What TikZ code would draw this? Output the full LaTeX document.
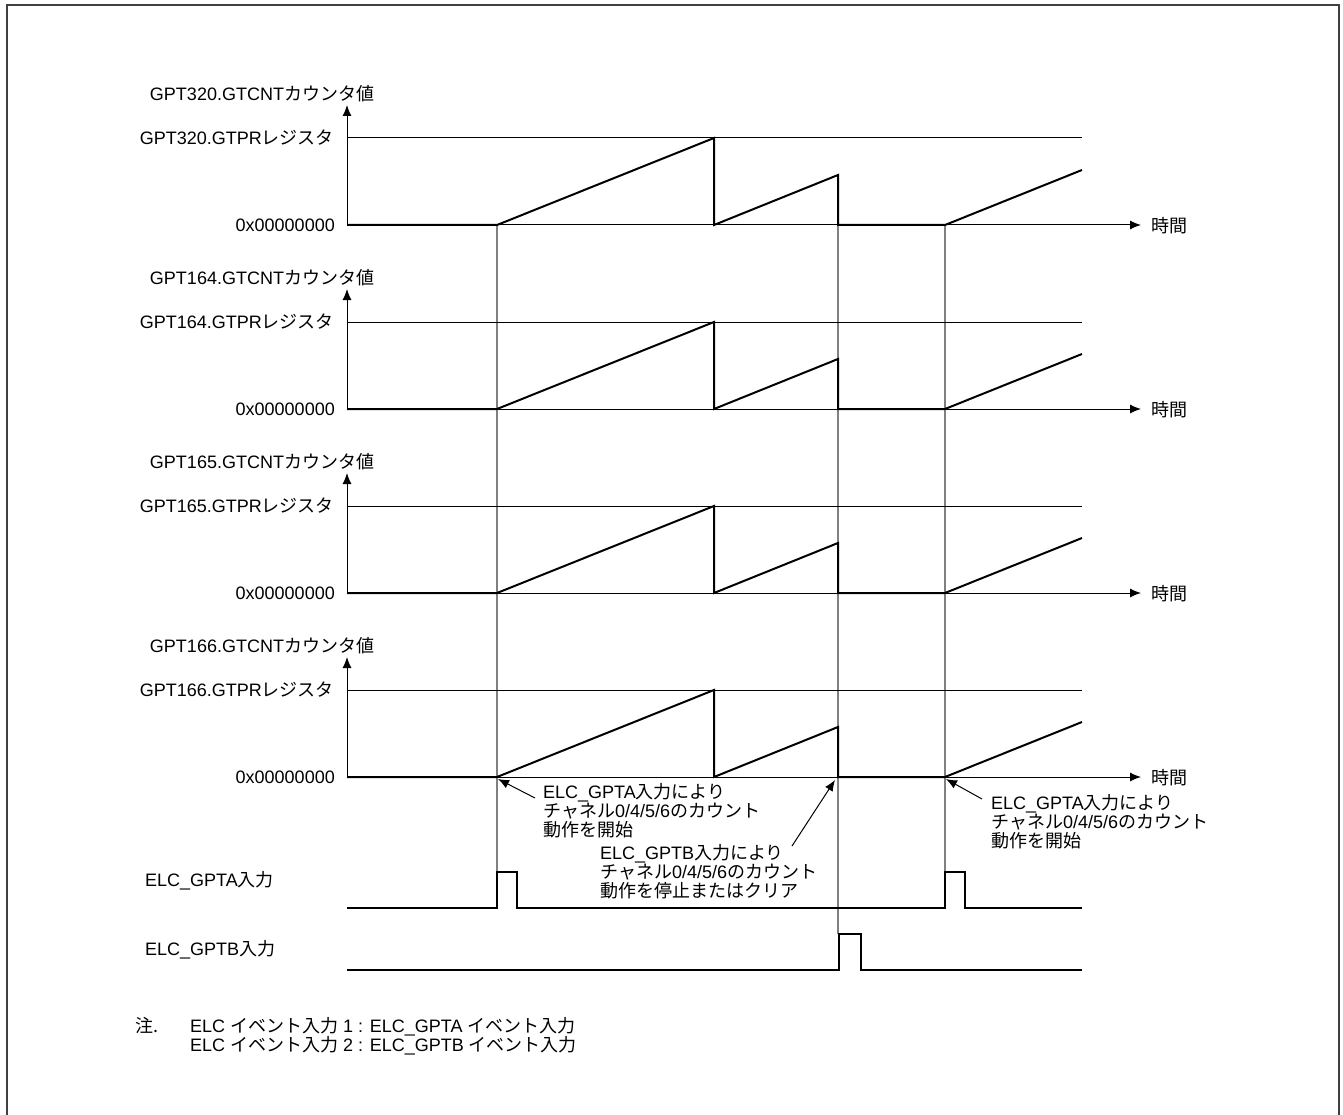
\documentclass[tikz,border=0pt]{standalone}
\usepackage{fontspec}
\setmainfont{Liberation Sans}
\newfontfamily\jp{Noto Sans CJK JP}
\usetikzlibrary{arrows.meta}
\begin{document}
\begin{tikzpicture}[x=1pt,y=-1pt,
  lbl/.style={font=\fontsize{18}{19}\selectfont, inner sep=0pt},
  axisline/.style={line width=1pt, black},
  wave/.style={line width=2pt, black, line join=miter},
  guide/.style={line width=1.3pt, gray},
  tip/.style={-{Latex[length=11pt,width=9pt]}},
  frame/.style={line width=2pt, black!75}]
\useasboundingbox (0,0) rectangle (1343,1115);
\draw[frame] (7,1116) -- (7,5) -- (1339,5) -- (1339,1116);
% guide lines
\draw[guide] (497,225) -- (497,872);
\draw[guide] (838,225) -- (838,934);
\draw[guide] (945,225) -- (945,872);
% four counters
\foreach \i/\g in {0/320,1/164,2/165,3/166} {
  \pgfmathsetmacro\z{225+184*\i}
  \draw[axisline,tip] (347,{\z}) -- (347,{\z-120});
  \draw[axisline] (347,{\z-87}) -- (1082,{\z-87});
  \draw[axisline,tip] (347,{\z}) -- (1141,{\z});
  \draw[wave] (347,{\z}) -- (497,{\z}) -- (714,{\z-87}) -- (714,{\z}) -- (838,{\z-50}) -- (838,{\z}) -- (945,{\z}) -- (1082,{\z-55});
  \node[lbl] (cnt\g) at (262,{\z-131}) {GPT\g.GTCNT{\jp カウンタ値}};
  \node[lbl,anchor=east] (pr\g) at (334,{\z-87}) {GPT\g.GTPR{\jp レジスタ}};
  \node[lbl,anchor=east] (zero\g) at (335,{\z}) {0x00000000};
  \node[lbl,anchor=west] (time\g) at (1151,{\z+1}) {\jp 時間};
}
% ELC inputs
\draw[wave] (347,908) -- (497,908) -- (497,872) -- (517,872) -- (517,908) -- (945,908) -- (945,872) -- (965,872) -- (965,908) -- (1082,908);
\draw[wave] (347,970) -- (839,970) -- (839,934) -- (861,934) -- (861,970) -- (1082,970);
\node[lbl,anchor=west] (gpta) at (145,881) {ELC\_GPTA{\jp 入力}};
\node[lbl,anchor=west] (gptb) at (145,950) {ELC\_GPTB{\jp 入力}};
% annotations
\node[lbl,align=left,anchor=north west] (annA) at (543,783) {ELC\_GPTA{\jp 入力により}\\{\jp チャネル}0/4/5/6{\jp のカウント}\\{\jp 動作を開始}};
\node[lbl,align=left,anchor=north west] (annB) at (600,844) {ELC\_GPTB{\jp 入力により}\\{\jp チャネル}0/4/5/6{\jp のカウント}\\{\jp 動作を停止またはクリア}};
\node[lbl,align=left,anchor=north west] (annC) at (991,794) {ELC\_GPTA{\jp 入力により}\\{\jp チャネル}0/4/5/6{\jp のカウント}\\{\jp 動作を開始}};
\coordinate (startA) at (498,779);
\coordinate (stopB) at (835,780);
\coordinate (startC) at (946,779);
\coordinate (fromA) at (535,798);
\coordinate (fromB) at (792,846);
\coordinate (fromC) at (982,799);
\draw[axisline,tip] (fromA) -- (startA);
\draw[axisline,tip] (fromB) -- (stopB);
\draw[axisline,tip] (fromC) -- (startC);
% note
\node[lbl,anchor=west] (chu) at (135,1026) {\jp 注.};
\node[lbl,align=left,anchor=north west] (note) at (190,1017) {ELC {\jp イベント入力} 1 : ELC\_GPTA {\jp イベント入力}\\ELC {\jp イベント入力} 2 : ELC\_GPTB {\jp イベント入力}};
\end{tikzpicture}
\end{document}
